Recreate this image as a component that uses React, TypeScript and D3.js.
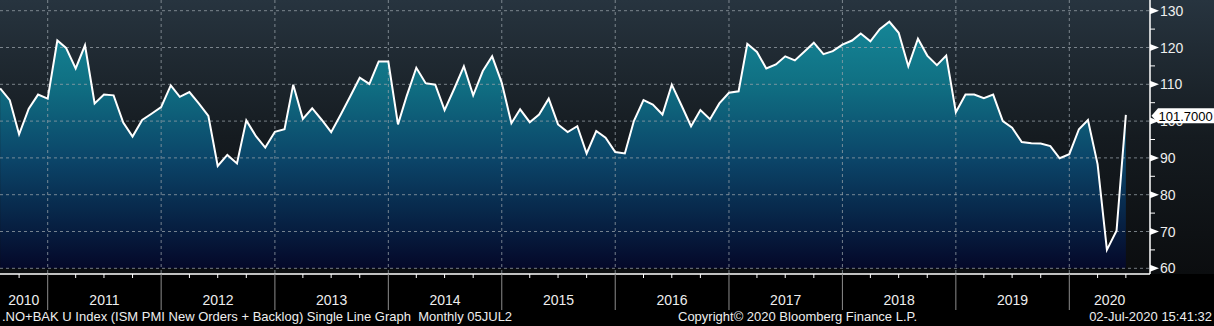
import React from "react";
import * as d3 from "d3";

// ISM PMI New Orders + Backlog, monthly, Jul 2010 .. Jun 2020
const startYear = 2010;
const startMonth = 6; // July (0-based)
const values = [
  108.9, 105.7, 96.4, 103.4, 107.2, 106.1,
  121.9, 119.9, 114.3, 120.6, 104.8, 107.2, 107.0, 99.6, 95.8, 100.3, 102.0, 103.8,
  109.7, 106.6, 107.9, 104.8, 101.4, 87.8, 90.8, 88.5, 100.2, 95.9, 92.8, 97.1,
  97.8, 109.9, 100.6, 103.5, 100.3, 97.0, 101.8, 106.8, 111.8, 110.1, 116.2, 116.2,
  99.1, 106.8, 114.5, 110.3, 109.9, 103.0, 108.8, 114.9, 107.0, 113.6, 117.6, 110.4,
  99.4, 103.2, 99.7, 101.8, 106.1, 99.1, 97.0, 98.6, 91.2, 97.3, 95.5, 91.6,
  91.2, 100.0, 105.7, 104.5, 101.8, 109.9, 104.3, 98.6, 103.0, 100.5, 104.8, 107.7,
  108.1, 121.0, 118.8, 114.3, 115.4, 117.6, 116.5, 118.9, 121.3, 118.2, 119.0, 120.8,
  121.9, 123.8, 121.7, 125.0, 127.0, 124.0, 114.9, 122.4, 117.8, 115.2, 117.8, 102.4,
  107.2, 107.2, 106.2, 107.2, 100.0, 98.2, 94.3, 94.0, 93.9, 93.2, 89.9, 91.0,
  97.8, 100.3, 88.3, 65.0, 70.2, 101.7,
];
const yTicks = [60, 70, 80, 90, 100, 110, 120, 130];
const yMinor = [65, 75, 85, 95, 105, 115, 125];
const years = [2010, 2011, 2012, 2013, 2014, 2015, 2016, 2017, 2018, 2019, 2020];
const lastLabel = "101.7000";
const footerLeft = ".NO+BAK U Index (ISM PMI New Orders + Backlog) Single Line Graph  Monthly 05JUL2";
const footerMid = "Copyright\u00a9 2020 Bloomberg Finance L.P.";
const footerRight = "02-Jul-2020 15:41:32";

const W = 1214;
const H = 326;
const plotRight = 1150;
const plotBottom = 274;
const font = "'Liberation Sans', Arial, sans-serif";

export default function App() {
  // each monthly point sits at the end of its month
  const points = values.map((v, i) => ({
    date: new Date(startYear, startMonth + i + 1, 1),
    value: v,
  }));

  const x = d3
    .scaleTime()
    .domain([new Date(2011, 0, 1), new Date(2020, 0, 1)])
    .range([47.7, 1069.3]);
  const y = d3.scaleLinear().domain([60, 130]).range([268.3, 10.7]);

  const line = d3
    .line<any>()
    .x((d) => x(d.date))
    .y((d) => y(d.value));
  const area = d3
    .area<any>()
    .x((d) => x(d.date))
    .y0(y(60))
    .y1((d) => y(d.value));

  const quarters = d3
    .timeMonth.every(3)!
    .range(x.invert(0), x.invert(plotRight))
    .filter((d) => d.getMonth() !== 0);

  const last = points[points.length - 1];
  const ly = y(last.value) + 1;

  return (
    <svg
      width={W}
      height={H}
      style={{ position: "absolute", left: 0, top: 0, display: "block" }}
    >
      <defs>
        <linearGradient id="bg" x1="0" y1="0" x2="0" y2={plotBottom} gradientUnits="userSpaceOnUse">
          <stop offset="0" stopColor="#27343f" />
          <stop offset="0.5" stopColor="#151b20" />
          <stop offset="1" stopColor="#0b0d0f" />
        </linearGradient>
        <linearGradient id="fill" x1="0" y1="0" x2="0" y2={y(60)} gradientUnits="userSpaceOnUse">
          <stop offset="0" stopColor="#178d9d" />
          <stop offset="0.3" stopColor="#107184" />
          <stop offset="0.6" stopColor="#0b4468" />
          <stop offset="1" stopColor="#040829" />
        </linearGradient>
      </defs>
      <rect x={0} y={0} width={W} height={H} fill="#000" />
      <rect x={0} y={0} width={W} height={plotBottom} fill="url(#bg)" />

      <path d={area(points) || ""} fill="url(#fill)" />

      {/* grid */}
      {yTicks.map((t) => (
        <line
          key={"gy" + t}
          x1={0}
          x2={plotRight}
          y1={y(t)}
          y2={y(t)}
          stroke="#9aa3aa"
          strokeOpacity={0.75}
          strokeDasharray="3,3"
        />
      ))}
      {years.slice(1).map((yr) => (
        <line
          key={"gx" + yr}
          x1={x(new Date(yr, 0, 1))}
          x2={x(new Date(yr, 0, 1))}
          y1={0}
          y2={plotBottom}
          stroke="#9aa3aa"
          strokeOpacity={0.75}
          strokeDasharray="3,3"
        />
      ))}

      <path d={line(points) || ""} fill="none" stroke="#fff" strokeWidth={2} strokeLinejoin="miter" />

      {/* right axis */}
      <line x1={plotRight} x2={plotRight} y1={0} y2={plotBottom} stroke="#fff" strokeWidth={1.5} />
      {yMinor.map((t) => (
        <line key={"ym" + t} x1={plotRight} x2={plotRight + 5} y1={y(t)} y2={y(t)} stroke="#fff" />
      ))}
      {yTicks.map((t) => (
        <g key={"yt" + t}>
          <path
            d={`M${plotRight},${y(t) - 3.5}L${plotRight + 9},${y(t)}L${plotRight},${y(t) + 3.5}Z`}
            fill="#fff"
          />
          <text
            x={plotRight + 10}
            y={y(t)}
            dy="0.36em"
            fill="#eeeeee"
            fontSize={14}
            fontFamily={font}
          >
            {t}
          </text>
        </g>
      ))}

      {/* last value label */}
      <path
        d={`M${plotRight + 1.5},${ly}L${plotRight + 8},${ly - 7.5}L${W},${ly - 7.5}L${W},${ly + 7.5}L${plotRight + 8},${ly + 7.5}Z`}
        fill="#fff"
      />
      <text x={plotRight + 8.5} y={ly} dy="0.36em" fill="#000" fontSize={13} fontFamily={font}>
        {lastLabel}
      </text>

      {/* bottom axis */}
      <line x1={0} x2={plotRight} y1={plotBottom} y2={plotBottom} stroke="#fff" strokeWidth={1.5} />
      {quarters.map((d, i) => (
        <line key={"q" + i} x1={x(d)} x2={x(d)} y1={plotBottom} y2={plotBottom + 4} stroke="#fff" />
      ))}
      {years.slice(1).map((yr) => (
        <line
          key={"ys" + yr}
          x1={x(new Date(yr, 0, 1))}
          x2={x(new Date(yr, 0, 1))}
          y1={plotBottom}
          y2={310}
          stroke="#8c8c8c"
        />
      ))}
      {years.map((yr) => {
        const a = Math.max(0, x(new Date(yr, 0, 1)));
        const b = Math.min(plotRight, x(new Date(yr + 1, 0, 1)));
        return (
          <text
            key={"yl" + yr}
            x={(a + b) / 2}
            y={305}
            textAnchor="middle"
            fill="#eeeeee"
            fontSize={14}
            fontFamily={font}
          >
            {yr}
          </text>
        );
      })}

      {/* footer */}
      <text x={2} y={321} fill="#eeeeee" fontSize={13} fontFamily={font} style={{ whiteSpace: "pre" }}>
        {footerLeft}
      </text>
      <text x={678} y={321} fill="#eeeeee" fontSize={13} fontFamily={font}>
        {footerMid}
      </text>
      <text x={W - 2} y={321} textAnchor="end" fill="#eeeeee" fontSize={13} fontFamily={font}>
        {footerRight}
      </text>
    </svg>
  );
}
